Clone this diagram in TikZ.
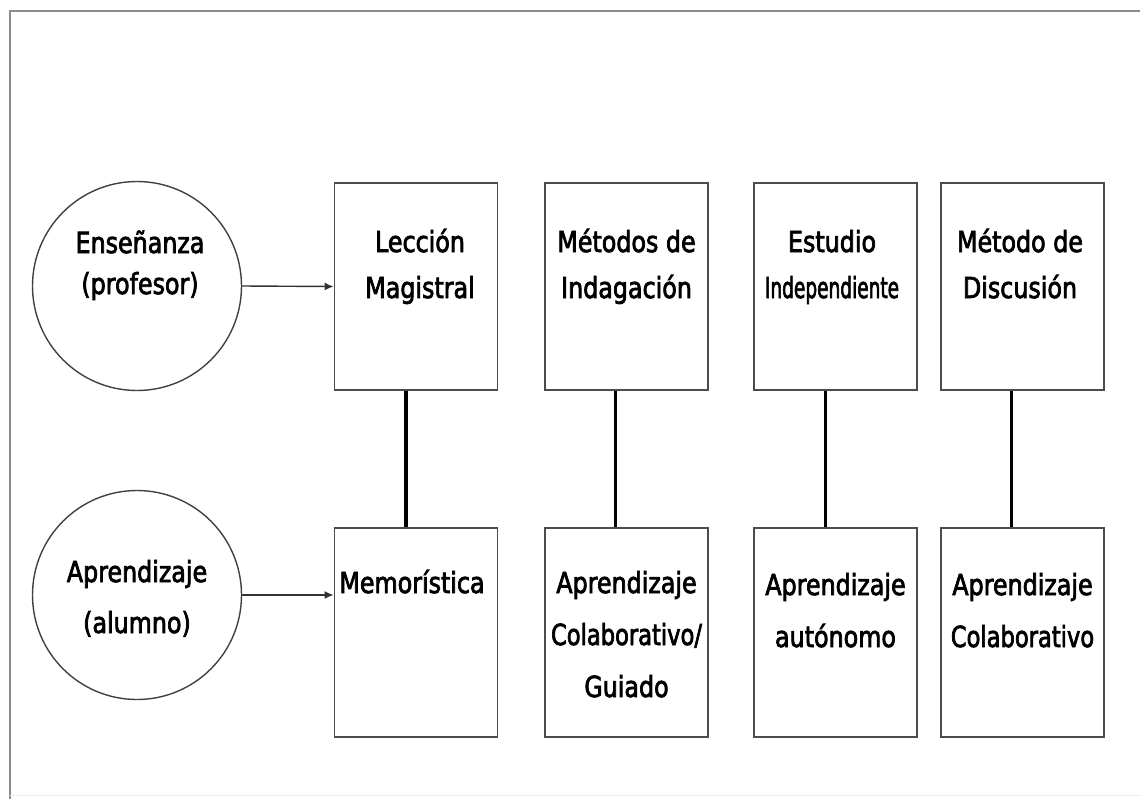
\documentclass[tikz,border=0pt]{standalone}
\usepackage{fontspec}
\usepackage{graphicx}
\setmainfont{DejaVu Sans}[FakeStretch=0.82,FakeBold=2.5]
\usetikzlibrary{arrows.meta}
\begin{document}
\begin{tikzpicture}[x=1pt,y=-1pt,thick,
    actor node/.style={circle,draw=black!75,line width=1.4pt,minimum size=209pt,inner sep=0pt},
    box node/.style={rectangle,draw=black!70,line width=1.8pt,minimum width=163pt,minimum height=207pt,inner sep=0pt},
    label node/.style={align=center,anchor=base,inner sep=0pt,font=\fontsize{29}{46}\selectfont},
    low label/.style={label node,font=\fontsize{29}{52}\selectfont}]
    \useasboundingbox (0,0) rectangle (1140,798);
    % frame
    \draw[black!45,line width=1.6pt] (1150,11) -- (10,11) -- (10,800);
    \draw[black!8,line width=1pt] (10,795) -- (1150,795);

    \node[actor node] at (137,286) (ens) {};
    \node[actor node] at (137,595) (apr) {};
    \node[box node] at (416,286.5) (lec) {};
    \node[box node] at (626.5,286.5) (ind) {};
    \node[box node] at (835.5,286.5) (est) {};
    \node[box node] at (1022.5,286.5) (dis) {};
    \node[box node,minimum height=209pt] at (416,632.5) (mem) {};
    \node[box node,minimum height=209pt] at (626.5,632.5) (col) {};
    \node[box node,minimum height=209pt] at (835.5,632.5) (aut) {};
    \node[box node,minimum height=209pt] at (1022.5,632.5) (cod) {};

    % texts, placed by the baseline of their last line
    \node[label node,font=\fontsize{29}{41}\selectfont] at (140,294) (ens text) {Enseñanza\\(profesor)};
    \node[low label,font=\fontsize{29}{51}\selectfont] at (137,633) (apr text) {Aprendizaje\\(alumno)};
    \node[label node] at (420,298) (lec text) {Lección\\Magistral};
    \node[label node] at (626.5,298) (ind text) {Métodos de\\Indagación};
    \node[label node] at (832,298) (est text) {Estudio\\\scalebox{0.78}[1]{Independiente}};
    \node[label node] at (1020,298) (dis text) {Método de\\Discusión};
    \node[low label] at (412,593) (mem text) {Memorística};
    \node[low label] at (626.5,697) (col text) {Aprendizaje\\\scalebox{0.95}[1]{Colaborativo/}\\Guiado};
    \node[low label] at (835.5,647) (aut text) {Aprendizaje\\autónomo};
    \node[low label] at (1022.5,647) (cod text) {Aprendizaje\\\scalebox{0.95}[1]{Colaborativo}};

    \path[-{Latex[length=9pt,width=8pt]},line width=1.4pt,black!80]
        (ens.east) edge (lec.west)
        (apr.east) edge (apr.east -| mem.west)
        ;
    \path[line width=3.6pt]
        ([xshift=-10pt]lec.south) edge ([xshift=-10pt]mem.north)
        ([xshift=-11pt]ind.south) edge ([xshift=-11pt]col.north)
        ([xshift=-10pt]est.south) edge ([xshift=-10pt]aut.north)
        ([xshift=-11pt]dis.south) edge ([xshift=-11pt]cod.north)
        ;
\end{tikzpicture}
\end{document}
